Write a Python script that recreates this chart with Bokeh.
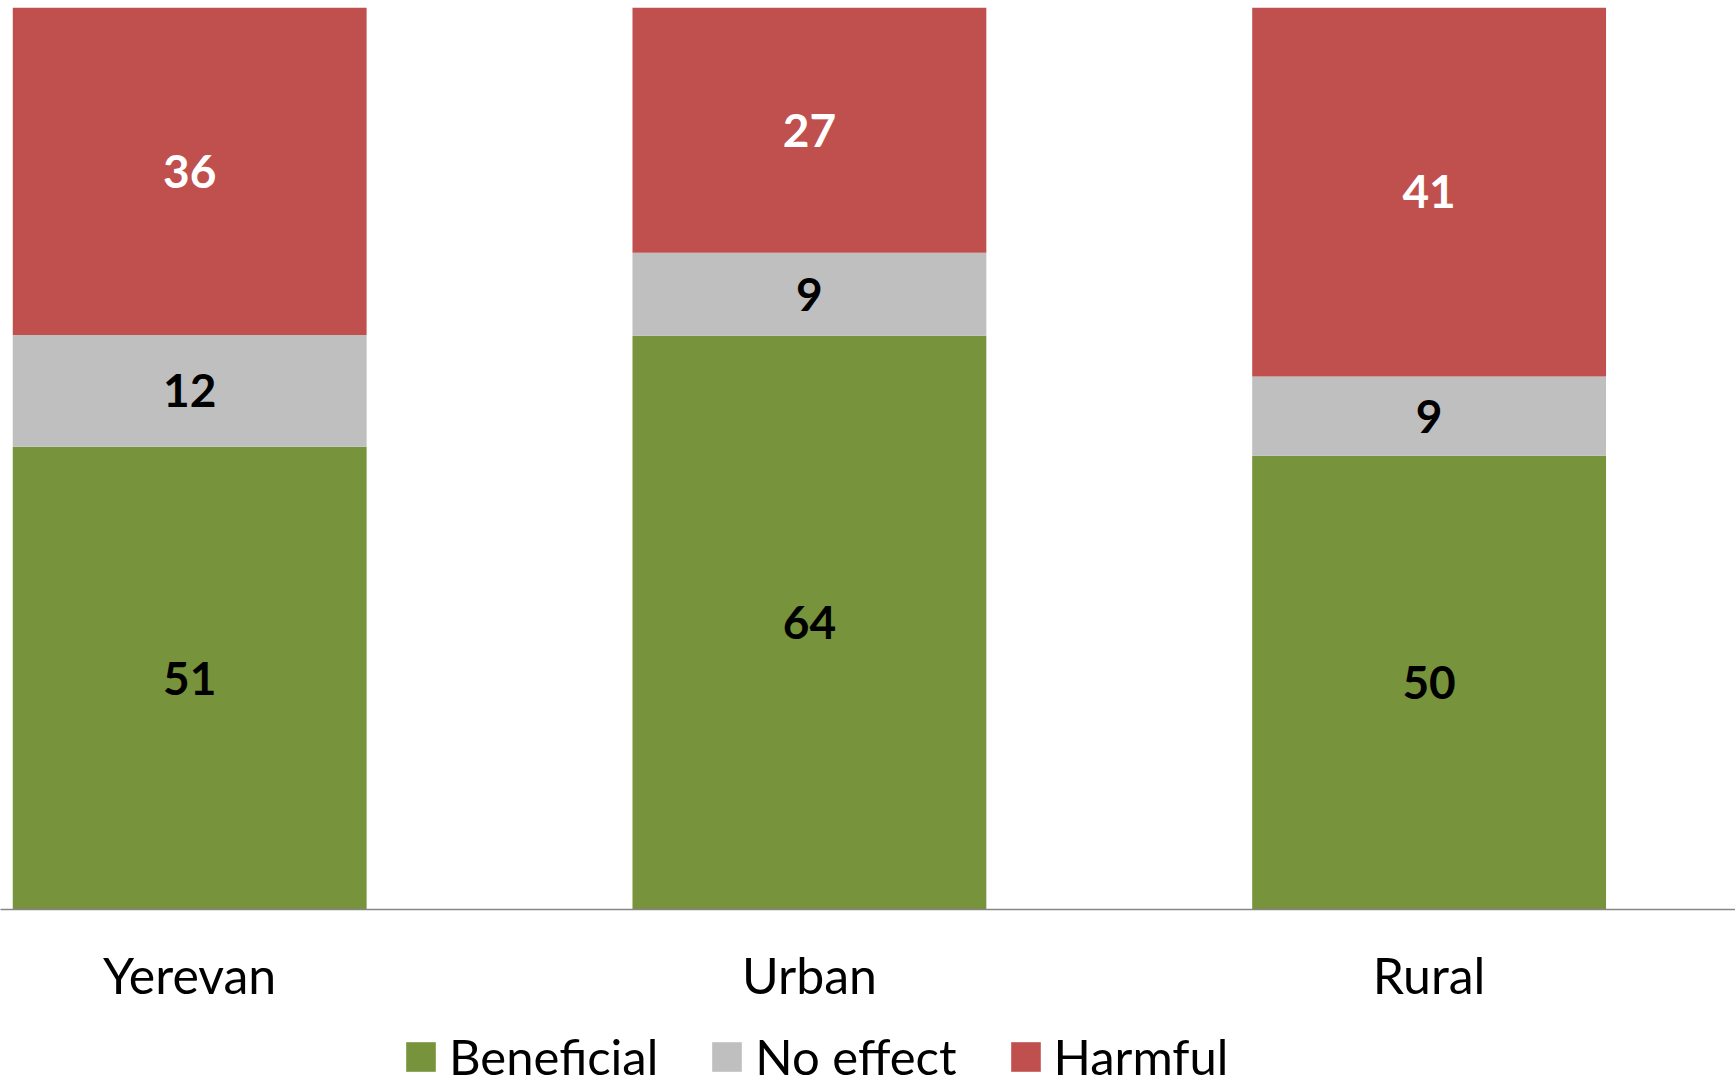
from bokeh.plotting import figure
from bokeh.layouts import column
from bokeh.models import Range1d, FixedTicker, Legend, LegendItem, ColumnDataSource
from bokeh.core.properties import value
from bokeh.embed import file_html
from bokeh.resources import INLINE

categories = ["Yerevan", "Urban", "Rural"]
series = ["Beneficial", "No effect", "Harmful"]
beneficial = [51.3, 63.6, 50.3]
no_effect = [12.4, 9.2, 8.8]
harmful = [36.3, 27.2, 40.9]
colors = ["#77933C", "#BFBFBF", "#C0504D"]
label_colors = ["black", "black", "white"]

W = 1735
H1 = 1015
H2 = 1085 - H1
p = figure(width=W, height=H1, output_backend="svg", toolbar_location=None,
           x_range=Range1d(-0.3053, 2.4944), y_range=Range1d(0, 100),
           y_axis_location=None, min_border_left=0, min_border_right=0,
           min_border_top=7, min_border_bottom=H1 - 909)
p.outline_line_color = None
p.xgrid.visible = False
p.ygrid.visible = False
p.background_fill_color = "white"
p.border_fill_color = "white"

xs = list(range(len(categories)))
data = {"x": xs, "Beneficial": beneficial, "No effect": no_effect, "Harmful": harmful}
src = ColumnDataSource(data)
bar_w = 0.571
rs = p.vbar_stack(series, x="x", width=bar_w, color=colors, line_color=None, source=src)

# data labels
for i, s in enumerate(series):
    vals = data[s]
    bottoms = [sum(data[series[k]][j] for k in range(i)) for j in range(len(xs))]
    mids = [b + v / 2 for b, v in zip(bottoms, vals)]
    txt = [str(round(v)) for v in vals]
    p.text(x=xs, y=mids, text=txt, text_font=value("Lato"), text_font_style="bold",
           text_font_size="46px", text_align="center", text_baseline="middle",
           text_color=label_colors[i])

ax = p.xaxis[0]
ax.ticker = FixedTicker(ticks=xs)
ax.major_label_overrides = {i: c for i, c in enumerate(categories)}
ax.axis_line_color = "#868686"
ax.axis_line_width = 1.5
ax.major_tick_line_color = None
ax.minor_tick_line_color = None
ax.major_label_text_font = "Lato"
ax.major_label_text_font_size = "50px"
ax.major_label_text_color = "black"
ax.major_label_standoff = 29

# legend strip
q = figure(width=W, height=H2, output_backend="svg", toolbar_location=None,
           x_range=Range1d(0, 1), y_range=Range1d(0, 1),
           x_axis_location=None, y_axis_location=None, min_border=0)
q.outline_line_color = None
q.xgrid.visible = False
q.ygrid.visible = False
q.border_fill_color = "white"
dummies = []
for c in colors:
    r = q.vbar(x=[0.5], top=[1], width=0.1, color=c, line_color=None)
    r.visible = False
    dummies.append(r)
legend = Legend(items=[LegendItem(label=s, renderers=[r]) for s, r in zip(series, dummies)],
                orientation="horizontal", location=(402, 0),
                glyph_width=37, glyph_height=37, label_standoff=10, spacing=50,
                label_text_font="Lato", label_text_font_size="49px",
                label_text_color="black", padding=0, margin=0,
                border_line_color=None, background_fill_alpha=0)
q.add_layout(legend, "center")

layout = column(p, q, spacing=0)
open("out.html", "w").write(file_html(layout, INLINE))
